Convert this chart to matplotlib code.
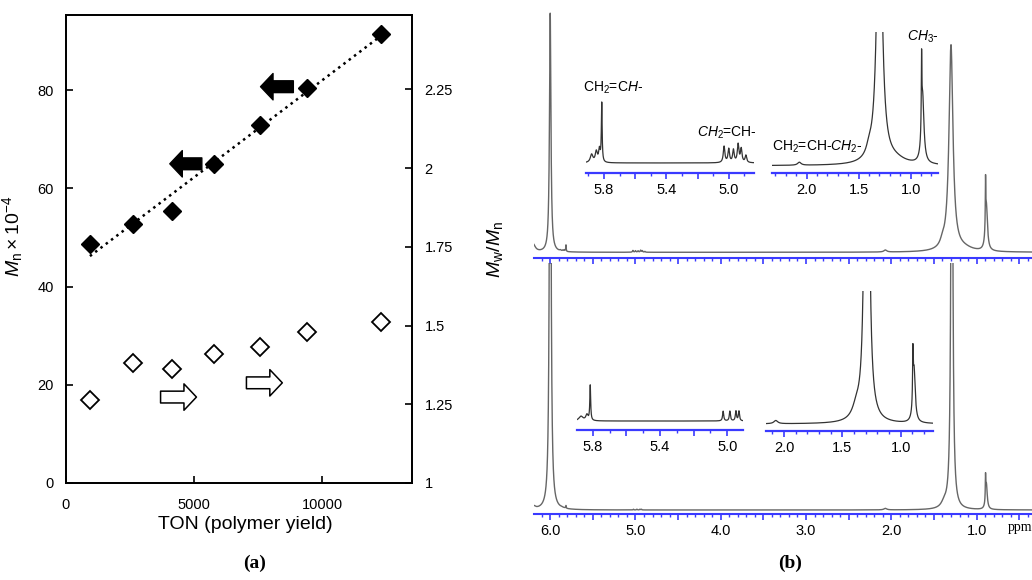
import numpy as np
import matplotlib
matplotlib.use("Agg")
import matplotlib.pyplot as plt
from matplotlib.ticker import MultipleLocator, FuncFormatter

plt.rcParams['font.family'] = ['Liberation Sans', 'DejaVu Sans']
plt.rcParams['mathtext.fontset'] = 'custom'
plt.rcParams['mathtext.rm'] = 'Liberation Sans'
plt.rcParams['mathtext.it'] = 'Liberation Sans:italic'
plt.rcParams['mathtext.bf'] = 'Liberation Sans:bold'

# ---------------- data: panel (a) ----------------
ton = [934, 2595, 4152, 5770, 7576, 9416, 12284]
mn = [48.7, 52.7, 55.3, 64.9, 72.9, 80.5, 91.4]
mwmn = [1.263, 1.381, 1.362, 1.410, 1.431, 1.480, 1.510]
left_ticks = [0, 20, 40, 60, 80]
right_ticks = [1, 1.25, 1.5, 1.75, 2, 2.25]
x_ticks = [0, 5000, 10000]
# arrows (tail_x, head_x, y) : filled -> Mn axis, open -> Mw/Mn axis (in Mn units)
filled_arrows = [(5300, 4050, 65.0), (8870, 7590, 80.7)]
open_arrows = [(3690, 5090, 17.5), (7040, 8440, 20.4)]

# ---------------- data: panel (b) (peak lists: ppm, height, hwhm) ----------------
top_ppm = [6.20, 6.00, 5.88, 5.85, 5.83, 5.815, 5.03, 5.00, 4.97, 4.94, 4.92, 4.89,
           2.07, 1.40, 1.30, 1.15, 0.895, 0.885]
top_h = [8.0, 239.0, 0.9, 1.2, 1.4, 6.5, 1.8, 1.5, 1.4, 2.0, 1.5, 0.8,
         2.0, 5.0, 206.0, 3.0, 45.0, 45.0]
top_w = [0.03, 0.010, 0.010, 0.008, 0.006, 0.003, 0.006, 0.006, 0.006, 0.006, 0.006, 0.006,
         0.02, 0.03, 0.028, 0.12, 0.003, 0.015]

bot_ppm = [6.20, 6.00, 5.87, 5.835, 5.815, 5.024, 4.984, 4.948, 4.930,
           2.07, 1.38, 1.29, 0.895, 0.885]
bot_h = [3.3, 600.0, 0.35, 0.45, 2.7, 0.75, 0.75, 0.75, 0.75,
         1.5, 5.0, 600.0, 22.0, 25.0]
bot_w = [0.03, 0.010, 0.015, 0.008, 0.003, 0.004, 0.004, 0.004, 0.004,
         0.02, 0.04, 0.011, 0.003, 0.012]

W, H = 1032, 580
fig = plt.figure(figsize=(W / 100, H / 100), dpi=100)


def box(l, t, r, b):
    return [l / W, 1 - b / H, (r - l) / W, (b - t) / H]


# ================= panel (a) =================
ax = fig.add_axes(box(66, 15, 412, 483))
ax.set_xlim(0, 13500)
ax.set_ylim(0, 95.3)
ax2 = ax.twinx()
ax2.set_ylim(1, 2.486)

fit = np.polyfit(ton, mn, 1)
xf = np.array([ton[0], ton[-1]])
ax.plot(xf, np.polyval(fit, xf), ls=':', color='black', lw=1.8, zorder=2)
ax.plot(ton, mn, ls='none', marker='D', ms=9, mfc='black', mec='black', zorder=3)
ax2.plot(ton, mwmn, ls='none', marker='D', ms=9, mfc='white', mec='black', mew=1.3, zorder=3)

for tx, hx, y in filled_arrows:
    ax.annotate('', xy=(hx, y), xytext=(tx, y),
                arrowprops=dict(arrowstyle='simple,head_length=0.9,head_width=1.9,tail_width=0.85',
                                fc='black', ec='black', mutation_scale=10, shrinkA=0, shrinkB=0))
for tx, hx, y in open_arrows:
    ax.annotate('', xy=(hx, y), xytext=(tx, y),
                arrowprops=dict(arrowstyle='simple,head_length=0.9,head_width=1.9,tail_width=0.85',
                                fc='white', ec='black', lw=1.1, mutation_scale=10, shrinkA=0, shrinkB=0))

ax.set_xticks(x_ticks)
ax.set_yticks(left_ticks)
ax2.set_yticks(right_ticks)
ax2.yaxis.set_major_formatter(FuncFormatter(lambda v, p: '%g' % v))
for a in (ax, ax2):
    for s in a.spines.values():
        s.set_linewidth(1.3)
ax.tick_params(direction='in', length=5, width=1.2, labelsize=10.5, pad=9)
ax2.tick_params(direction='in', length=5, width=1.2, labelsize=10.5, pad=9)
ax.tick_params(axis='x', pad=11)
ax.set_xlabel('TON (polymer yield)', fontsize=14)
ax.xaxis.set_label_coords(0.517, -0.07)
ax.set_ylabel(r'$M_\mathrm{n}\times10^{-4}$', fontsize=14)
ax.yaxis.set_label_coords(-0.118, 0.526)
ax2.set_ylabel(r'$M_\mathrm{w}/M_\mathrm{n}$', fontsize=14)
ax2.yaxis.set_label_coords(1.21, 0.498)

fig.text(255 / W, 1 - 563 / H, '(a)', family=['Liberation Serif'], fontsize=14,
         fontweight='bold', ha='center', va='center')
fig.text(790 / W, 1 - 563 / H, '(b)', family=['Liberation Serif'], fontsize=14,
         fontweight='bold', ha='center', va='center')

# ================= panel (b) =================
BLUE = '#3a3aff'


def spectrum(x, ppm, h, w, lo=None, hi=None):
    ppm = np.asarray(ppm); h = np.asarray(h); w = np.asarray(w)
    if lo is not None:
        keep = (ppm >= lo) & (ppm <= hi)
        ppm, h, w = ppm[keep], h[keep], w[keep]
    x = np.asarray(x)[:, None]
    return (h[None, :] * w[None, :] ** 2 / ((x - ppm[None, :]) ** 2 + w[None, :] ** 2)).sum(axis=1)


def style_axis(a, major, minor, labels_at=None, lw=1.5, maj_len=4.0, min_len=2.0, fs=10.5):
    for k in ('left', 'right', 'top'):
        a.spines[k].set_visible(False)
    a.spines['bottom'].set_color(BLUE)
    a.spines['bottom'].set_linewidth(lw)
    a.set_yticks([])
    a.patch.set_alpha(0)
    a.xaxis.set_major_locator(MultipleLocator(major))
    a.xaxis.set_minor_locator(MultipleLocator(minor))
    if labels_at is None:
        a.xaxis.set_major_formatter(FuncFormatter(lambda v, p: ''))
    else:
        a.xaxis.set_major_formatter(
            FuncFormatter(lambda v, p: ('%.1f' % v) if any(abs(v - q) < 1e-6 for q in labels_at) else ''))
    a.tick_params(axis='x', which='major', direction='out', color=BLUE, length=maj_len, width=1.2,
                  labelsize=fs, pad=3)
    a.tick_params(axis='x', which='minor', direction='out', color=BLUE, length=min_len, width=1.0)


XL = (6.19, 0.35)
# top main spectrum
at = fig.add_axes(box(534, 0, 1032, 257.7))
at.set_xlim(*XL)
at.set_ylim(-5.4, 252.3)
xs = np.linspace(XL[0], XL[1], 12000)
at.plot(xs, spectrum(xs, top_ppm, top_h, top_w), color='#666666', lw=1.0)
style_axis(at, 0.5, 0.1, None)

# bottom main spectrum
ab = fig.add_axes(box(534, 263, 1032, 514))
ab.set_xlim(*XL)
ab.set_ylim(-4, 247)
ab.plot(xs, spectrum(xs, bot_ppm, bot_h, bot_w), color='#666666', lw=1.0)
style_axis(ab, 0.5, 0.1, [6.0, 5.0, 4.0, 3.0, 2.0, 1.0])
ab.text(0.63, -17, 'ppm', family=['Liberation Serif'], fontsize=10, ha='left', va='center')

# insets (expanded regions, showing only the peaks inside each window)
insets = [
    (box(586, 90, 754.3, 172.7), (5.916, 4.836), (-1.08, 8.1), 'top', 0.2, 0.1, [5.8, 5.4, 5.0]),
    (box(772.3, 32.3, 937.7, 172.7), (2.33, 0.74), (-4.67, 88.9), 'top', 0.5, 0.1, [2.0, 1.5, 1.0]),
    (box(577.3, 370, 743.3, 430), (5.892, 4.904), (-0.69, 3.92), 'bot', 0.2, 0.1, [5.8, 5.4, 5.0]),
    (box(766, 290.7, 933.3, 430.7), (2.154, 0.72), (-3.12, 62.0), 'bot', 0.5, 0.1, [2.0, 1.5, 1.0]),
]
inset_axes = []
for bx, xl, yl, which, mj, mn_, labs in insets:
    ai = fig.add_axes(bx)
    ai.set_xlim(*xl)
    ai.set_ylim(*yl)
    xi = np.linspace(xl[0], xl[1], 6000)
    lo, hi = min(xl), max(xl)
    if which == 'top':
        yi = spectrum(xi, top_ppm, top_h, top_w, lo, hi)
    else:
        yi = spectrum(xi, bot_ppm, bot_h, bot_w, lo, hi)
    ai.plot(xi, yi, color='#333333', lw=0.9)
    style_axis(ai, mj, mn_, labs, lw=1.6, maj_len=4.5, min_len=2.0, fs=10.5)
    inset_axes.append(ai)

a_tl, a_tr, a_bl, a_br = inset_axes
a_tl.text(5.935, 8.3, r'CH$_2$=C$\mathit{H}$-', fontsize=10, ha='left', va='center')
a_tl.text(5.2035, 3.33, r'$\mathit{CH}_\mathit{2}$=CH-', fontsize=10, ha='left', va='center')
a_tr.text(2.336, 12.7, r'CH$_2$=CH-$\mathit{CH}_\mathit{2}$-', fontsize=10, ha='left', va='center')
a_tr.text(1.038, 86.0, r'$\mathit{CH}_\mathit{3}$-', fontsize=10, ha='left', va='center')

fig.savefig('out.png', dpi=100)
